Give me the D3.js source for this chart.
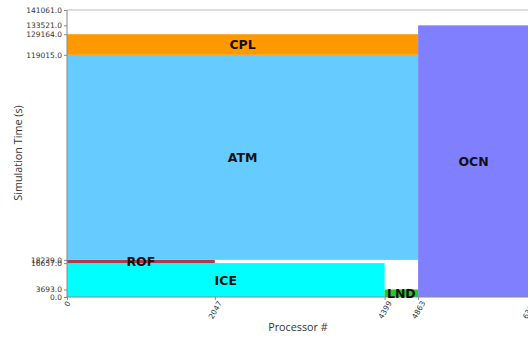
<!DOCTYPE html>
<html><head><meta charset="utf-8">
<script src="https://cdn.jsdelivr.net/npm/d3@7"></script>
<style>
html,body{margin:0;padding:0;background:#fff;}
svg{display:block;}
</style></head>
<body>
<svg id="c" width="528" height="337"></svg>
<script>
// Data
const components = ["ICE", "LND", "ROF", "ATM", "CPL", "OCN"];
const procStart  = [0, 4399, 0, 0, 0, 4863];
const procEnd    = [4399, 4863, 2047, 4863, 4863, 6399];
const timeStart  = [0, 0, 16657, 18239, 119015, 0];
const timeEnd    = [16657, 3693, 18239, 119015, 129164, 133521];
const colors     = ["#00ffff", "#22cc22", "#b03a48", "#66ccff", "#ff9900", "#8080ff"];
const yTicks = [0, 3693, 16657, 18239, 119015, 129164, 133521, 141061];
const xTicks = [0, 2047, 4399, 4863, 6399];

(function () {
const svg = d3.select("#c");
const mLeft = 67, mTop = 10, mBottom = 297;
const x = d3.scaleLinear().domain([0, 6399]).range([mLeft, 529]);
const y = d3.scaleLinear().domain([0, 141061]).range([mBottom, mTop]);

const data = components.map((c, i) => ({c, x0: procStart[i], x1: procEnd[i], y0: timeStart[i], y1: timeEnd[i], col: colors[i]}));

svg.append("g").selectAll("rect").data(data).join("rect")
  .attr("x", d => x(d.x0))
  .attr("width", d => x(d.x1) - x(d.x0))
  .attr("y", d => y(d.y1))
  .attr("height", d => y(d.y0) - y(d.y1))
  .attr("fill", d => d.col);

// spines
svg.append("line").attr("x1", mLeft).attr("x2", 528).attr("y1", mTop).attr("y2", mTop).attr("stroke", "#bbb").attr("stroke-width", 1);
svg.append("line").attr("x1", mLeft).attr("x2", mLeft).attr("y1", mTop).attr("y2", mBottom).attr("stroke", "#888").attr("stroke-width", 1);
svg.append("line").attr("x1", mLeft).attr("x2", 528).attr("y1", mBottom).attr("y2", mBottom).attr("stroke", "#888").attr("stroke-width", 1);

// y axis
const yAxis = d3.axisLeft(y).tickValues(yTicks).tickFormat(d => d.toFixed(1)).tickSize(3).tickPadding(2);
const gy = svg.append("g").attr("transform", `translate(${mLeft},0)`).call(yAxis);
gy.select(".domain").remove();
gy.selectAll("line").attr("stroke", "#888");
gy.selectAll("text").attr("font-family", "DejaVu Sans").attr("font-size", 7.5).attr("fill", "#333");

// x axis
const xAxis = d3.axisBottom(x).tickValues(xTicks).tickFormat(d => String(d)).tickSize(3);
const gx = svg.append("g").attr("transform", `translate(0,${mBottom})`).call(xAxis);
gx.select(".domain").remove();
gx.selectAll("line").attr("stroke", "#888");
gx.selectAll("text")
  .attr("font-family", "DejaVu Sans").attr("font-size", 7.5).attr("fill", "#333")
  .attr("y", 0).attr("dy", null)
  .attr("text-anchor", "middle").attr("dominant-baseline", "central")
  .attr("transform", d => `translate(0,${d === 0 ? 7 : 13}) rotate(-60)`);

// labels on bars
svg.append("g").selectAll("text").data(data).join("text")
  .attr("x", d => x((d.x0 + d.x1) / 2))
  .attr("y", d => y((d.y0 + d.y1) / 2))
  .attr("text-anchor", "middle").attr("dominant-baseline", "central")
  .attr("font-family", "DejaVu Sans").attr("font-weight", "bold").attr("font-size", 12.5)
  .attr("fill", "#111")
  .text(d => d.c);

// axis titles
svg.append("text").attr("x", 298).attr("y", 331).attr("text-anchor", "middle")
  .attr("font-family", "Open Sans").attr("font-size", 10.8).attr("fill", "#333").text("Processor #");
svg.append("text").attr("transform", "translate(17,153) rotate(-90)").attr("text-anchor", "middle")
  .attr("dominant-baseline", "central")
  .attr("font-family", "Open Sans").attr("font-size", 10.8).attr("fill", "#333").text("Simulation Time (s)");
})();
</script>
</body></html>
